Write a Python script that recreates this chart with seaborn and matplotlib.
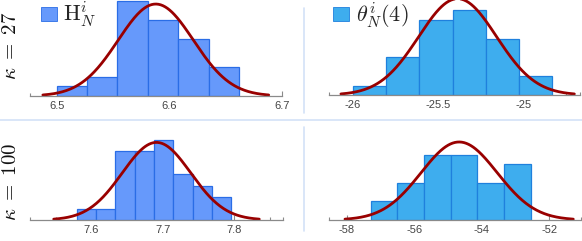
import numpy as np
import pandas as pd
import matplotlib
matplotlib.use("Agg")
import matplotlib.pyplot as plt
import seaborn as sns
from matplotlib.patches import Patch
from matplotlib.lines import Line2D

sns.set_theme(style="white")
plt.rcParams["font.family"] = ["Liberation Sans", "DejaVu Sans"]
plt.rcParams["mathtext.fontset"] = "cm"
plt.rcParams["axes.unicode_minus"] = False

N = 30
# top-left: H_N^i, kappa = 27
tl_edges = [6.5, 6.527, 6.554, 6.581, 6.608, 6.635, 6.662]
tl_counts = [1, 2, 10, 8, 6, 3]
tl_mu, tl_sigma = 6.588, 0.0334
tl_ticks = [6.5, 6.6, 6.7]
# top-right: theta_N^i(4), kappa = 27
tr_edges = [-26.0, -25.805, -25.61, -25.415, -25.22, -25.025, -24.83]
tr_counts = [1, 4, 8, 9, 6, 2]
tr_mu, tr_sigma = -25.385, 0.228
tr_ticks = [-26, -25.5, -25]
# bottom-left: H_N^i, kappa = 100
bl_edges = [7.5795, 7.6066, 7.6337, 7.6609, 7.688, 7.715, 7.742, 7.769, 7.796]
bl_counts = [1, 1, 6, 6, 7, 4, 3, 2]
bl_mu, bl_sigma = 7.6912, 0.048
bl_ticks = [7.6, 7.7, 7.8]
# bottom-right: theta_N^i(4), kappa = 100
br_edges = [-57.29, -56.50, -55.71, -54.92, -54.13, -53.34, -52.55]
br_counts = [2, 4, 7, 7, 4, 6]
br_mu, br_sigma = -54.67, 1.127
br_ticks = [-58, -56, -54, -52]

row_labels = [r"$\kappa\;=\;27$", r"$\kappa\;=\;100$"]
legend_labels = [r"$\mathrm{H}_N^i$", r"$\theta_N^i(4)$"]

C_LEFT, E_LEFT = "#6699fb", "#2a6de6"
C_RIGHT, E_RIGHT = "#3eadee", "#1f80dd"
C_CURVE = "#990000"
AX_GRAY = "#8a8a8a"

W, H = 582, 241
fig = plt.figure(figsize=(W / 100, H / 100), dpi=100)


def add_ax(x0, y0, x1, y1):
    return fig.add_axes([x0 / W, 1 - y1 / H, (x1 - x0) / W, (y1 - y0) / H])


def panel(ax, edges, counts, mu, sigma, ticks, xlim, ytop, color, ecolor, fmt):
    e = np.asarray(edges, dtype=float)
    centers = (e[:-1] + e[1:]) / 2
    df = pd.DataFrame({"x": centers, "w": counts})
    sns.histplot(data=df, x="x", weights="w", bins=list(edges), ax=ax,
                 color=color, edgecolor=ecolor, linewidth=0.9, alpha=1.0)
    bw = np.mean(np.diff(e))
    xs = np.linspace(mu - 3 * sigma, mu + 3 * sigma, 300)
    ys = N * bw * np.exp(-0.5 * ((xs - mu) / sigma) ** 2) / (sigma * np.sqrt(2 * np.pi))
    sns.lineplot(x=xs, y=ys, ax=ax, color=C_CURVE, linewidth=2.0)
    ax.set_xlim(*xlim)
    ax.set_ylim(0, ytop)
    ax.set_xlabel("")
    ax.set_ylabel("")
    ax.set_yticks([])
    for s in ["top", "left", "right"]:
        ax.spines[s].set_visible(False)
    ax.spines["bottom"].set_color(AX_GRAY)
    ax.spines["bottom"].set_linewidth(0.9)
    ax.set_xticks(ticks)
    ax.set_xticklabels([fmt(t) for t in ticks])
    step = ticks[1] - ticks[0]
    minors = [t + step / 2 for t in ticks] + [ticks[0] - step / 2] + list(xlim)
    minors = [m for m in minors if xlim[0] - 1e-9 <= m <= xlim[1] + 1e-9]
    ax.set_xticks(minors, minor=True)
    ax.tick_params(axis="x", which="major", direction="in", length=3.5, width=0.8,
                   color=AX_GRAY, labelsize=8, labelcolor="#444444", pad=3.5, bottom=True)
    ax.tick_params(axis="x", which="minor", direction="in", length=2.5, width=0.8,
                   color=AX_GRAY, bottom=True)
    ax.patch.set_alpha(0)


fmt1 = lambda t: f"{t:.1f}"
fmt_g = lambda t: f"{t:g}"

ax_tl = add_ax(30, 0, 282, 96)
panel(ax_tl, tl_edges, tl_counts, tl_mu, tl_sigma, tl_ticks, (6.4764, 6.7), 10.1,
      C_LEFT, E_LEFT, fmt1)
ax_tr = add_ax(329.3, 0, 580, 95)
panel(ax_tr, tr_edges, tr_counts, tr_mu, tr_sigma, tr_ticks, (-26.137, -24.668), 10.1,
      C_RIGHT, E_RIGHT, fmt_g)
ax_bl = add_ax(30, 130, 282.7, 220)
panel(ax_bl, bl_edges, bl_counts, bl_mu, bl_sigma, bl_ticks, (7.514, 7.868), 90 / 11.5,
      C_LEFT, E_LEFT, fmt1)
ax_br = add_ax(329.3, 130, 580.7, 220)
panel(ax_br, br_edges, br_counts, br_mu, br_sigma, br_ticks, (-58.515, -51.07), 90 / 9.3,
      C_RIGHT, E_RIGHT, fmt_g)

# legends
for ax, lab, col, ecol, x0 in [(ax_tl, legend_labels[0], C_LEFT, E_LEFT, 40.5),
                               (ax_tr, legend_labels[1], C_RIGHT, E_RIGHT, 333)]:
    h = Patch(facecolor=col, edgecolor=ecol, linewidth=0.6)
    ax.legend(handles=[h], labels=[lab], loc="upper left",
              bbox_to_anchor=(x0 / W, 1 - 0 / H), bbox_transform=fig.transFigure,
              frameon=False, fontsize=16, handlelength=0.72, handleheight=0.55,
              handletextpad=0.3, borderpad=0, borderaxespad=0)

# row labels
fig.text(11 / W, 1 - 46 / H, row_labels[0], rotation=90, ha="center", va="center",
         fontsize=15, color="#111111")
fig.text(11 / W, 1 - 182 / H, row_labels[1], rotation=90, ha="center", va="center",
         fontsize=15, color="#111111")

# separators
SEP = "#d3e2f7"
fig.add_artist(Line2D([0, 1], [1 - 120 / H, 1 - 120 / H], color=SEP, lw=1.2,
                      transform=fig.transFigure))
fig.add_artist(Line2D([303.8 / W, 303.8 / W], [1 - 8 / H, 1 - 113 / H], color=SEP, lw=1.2,
                      transform=fig.transFigure))
fig.add_artist(Line2D([303.8 / W, 303.8 / W], [1 - 127 / H, 1 - 231 / H], color=SEP, lw=1.2,
                      transform=fig.transFigure))

fig.savefig("out.png", dpi=100)
